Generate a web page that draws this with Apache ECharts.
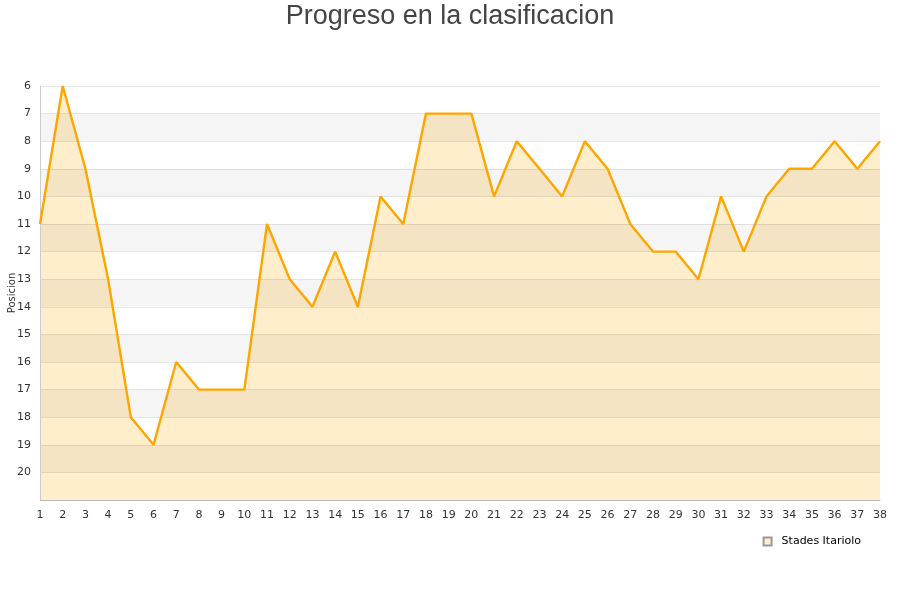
<!DOCTYPE html>
<html>
<head>
<meta charset="utf-8">
<script src="https://cdn.jsdelivr.net/npm/echarts@6/dist/echarts.min.js"></script>
<style>
  html, body { margin: 0; padding: 0; background: #fff; }
  #chart { width: 900px; height: 600px; }
</style>
</head>
<body>
<div id="chart"></div>
<script>
var jornadas = ['1','2','3','4','5','6','7','8','9','10','11','12','13','14','15','16','17','18','19',
  '20','21','22','23','24','25','26','27','28','29','30','31','32','33','34','35','36','37','38'];
var posiciones = [11, 6, 9, 13, 18, 19, 16, 17, 17, 17, 11, 13, 14, 12, 14, 10, 11, 7, 7,
  7, 10, 8, 9, 10, 8, 9, 11, 12, 12, 13, 10, 12, 10, 9, 9, 8, 9, 8];
var equipo = 'Stades Itariolo';
var posMin = 6;
var posMax = 21;

var myChart = echarts.init(document.getElementById('chart'));

var options = {
  animation: false,
  title: {
    text: 'Progreso en la clasificacion',
    left: 'center',
    top: -2,
    textStyle: {
      fontFamily: 'Liberation Sans',
      fontSize: 27,
      fontWeight: 'normal',
      color: '#444'
    }
  },
  legend: {
    data: [{ name: equipo, icon: 'rect' }],
    right: 34,
    top: 531,
    itemWidth: 8,
    itemHeight: 8,
    textStyle: { fontFamily: 'DejaVu Sans', fontSize: 11, color: '#000', padding: [0, 0, 0, 5] }
  },
  grid: { left: 40, right: 20, top: 86, bottom: 100, outerBoundsMode: 'none', containLabel: false },
  xAxis: {
    type: 'category',
    data: jornadas,
    boundaryGap: false,
    axisLine: { lineStyle: { color: '#ccc' } },
    axisTick: { show: false },
    axisLabel: {
      interval: 0,
      color: '#333',
      fontFamily: 'DejaVu Sans',
      fontSize: 11,
      margin: 10
    },
    splitLine: { show: false }
  },
  yAxis: {
    type: 'value',
    inverse: true,
    min: posMin,
    max: posMax,
    interval: 1,
    z: 3,
    name: 'Posicion',
    nameLocation: 'middle',
    nameGap: 23,
    nameMoveOverlap: false,
    nameTextStyle: { fontFamily: 'DejaVu Sans', fontSize: 10, color: '#333' },
    axisLine: { show: true, lineStyle: { color: '#ccc' } },
    axisTick: { show: false },
    axisLabel: {
      color: '#333',
      fontFamily: 'DejaVu Sans',
      fontSize: 11,
      margin: 9,
      formatter: function (v) { return v >= posMax ? '' : v; }
    },
    splitLine: { show: true, lineStyle: { color: 'rgba(0,0,0,0.09)' } },
    splitArea: { show: true, areaStyle: { color: ['rgba(0,0,0,0)', 'rgba(0,0,0,0.04)'] } }
  },
  series: [
    {
      name: equipo,
      type: 'line',
      data: posiciones,
      z: 2,
      symbol: 'none',
      lineStyle: { width: 0 },
      itemStyle: { color: '#FFEECC', borderColor: '#999', borderWidth: 0.8 },
      areaStyle: { color: '#FFEECC', opacity: 1, origin: 'end' }
    },
    {
      name: 'linea',
      type: 'line',
      data: posiciones,
      z: 5,
      symbol: 'none',
      silent: true,
      lineStyle: { color: '#FFA500', width: 2.4 }
    }
  ]
};

myChart.setOption(options);
</script>
</body>
</html>
